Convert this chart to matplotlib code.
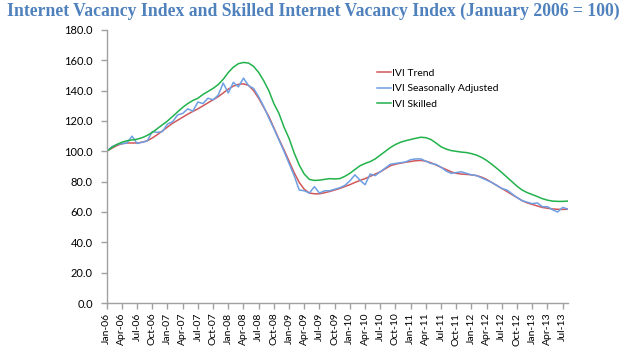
import matplotlib
matplotlib.use("Agg")
import matplotlib.pyplot as plt
import pandas as pd

months = pd.date_range("2006-01-01", "2013-08-01", freq="MS")
month_labels = [d.strftime("%b-%y") for d in months]

ivi_trend = [
    100, 102, 103.8, 105, 105.5, 105.5, 105.5, 106, 107, 108.8, 111, 113.5,
    116, 118.5, 120.5, 122.5, 124.5, 126.3, 128, 130, 132, 134, 136, 138.5,
    141, 143, 144.2, 144.5, 143.5, 140, 135, 129, 123, 115.5, 108, 101,
    93.5, 86, 79.5, 75, 72.5, 72, 72, 72.7, 73.5, 74.5, 75.5, 76.8,
    78, 79.5, 80.8, 82, 83.5, 85, 86.5, 88.5, 90.5, 91.5, 92.2, 92.8,
    93.3, 93.8, 94, 93.5, 92.5, 91, 89.5, 88, 86.5, 85.5, 85, 84.8,
    84.5, 84, 83, 81.5, 79.5, 77.5, 75.5, 73.5, 71.5, 69.5, 67.5, 66,
    65, 64, 63, 62.5, 62, 61.8, 61.7, 61.8,
]

ivi_sa = [
    100, 103, 104.5, 105, 105.5, 110, 105.2, 106, 106.8, 113, 112.5, 113,
    118, 119.5, 124, 125, 128, 126.5, 132.5, 131.5, 135, 134, 137, 145,
    138.5, 145.5, 142.5, 148.3, 143.3, 141.5, 136, 129.5, 122, 115, 107.5, 100,
    92, 84, 74.5, 74, 72.5, 76.7, 72.5, 74, 74, 75, 76, 77.5,
    80.5, 84.5, 81, 78, 85, 84, 86.5, 89, 91.5, 92, 92.5, 93,
    94.5, 95, 95, 93.5, 92, 91.4, 89.5, 87, 85.5, 86, 86.5, 85.5,
    84.5, 84, 82.5, 81, 79.5, 77.5, 75.5, 74.5, 72, 69.5, 67.5, 66.5,
    65.5, 66, 63.5, 63.5, 61.5, 60, 63, 62,
]

ivi_skilled = [
    100, 102.5, 104.5, 106, 107, 107.5, 108, 109, 110.5, 112.5, 115, 117.5,
    120, 123, 126, 129, 131.5, 133.5, 135, 137.5, 139.5, 141.5, 144, 147.5,
    152, 155.5, 157.8, 158.6, 158.2, 156, 152, 146.5, 140, 131.5, 125, 116,
    108.5, 99, 91, 85, 81.5, 80.8, 81, 81.5, 82, 81.8, 82, 83.5,
    85.5, 88, 90.5, 92, 93.2, 95, 97.5, 100, 102.5, 104.5, 106, 107,
    107.8, 108.6, 109.3, 109, 107.8, 105.5, 103, 101.5, 100.5, 100, 99.5, 99.2,
    98.5, 97.5, 96, 94, 91.5, 88.8, 86, 83, 80, 77, 74.5, 72.8,
    71.5, 70.2, 68.8, 67.8, 67.2, 67, 67, 67.2,
]

series_names = ["IVI Trend", "IVI Seasonally Adjusted", "IVI Skilled"]
series_colors = ["#D0575A", "#6E9FE2", "#22B24C"]

y_ticks = [0, 20, 40, 60, 80, 100, 120, 140, 160, 180]

W, H = 627, 355
fig = plt.figure(figsize=(W / 100, H / 100), dpi=100)
ax = fig.add_axes([106.7 / W, 1 - 303 / H, (567.7 - 106.7) / W, (303 - 30) / H])

x = list(range(len(months)))
for vals, name, col in zip([ivi_trend, ivi_sa, ivi_skilled], series_names, series_colors):
    ax.plot(x, vals, color=col, lw=1.1, label=name)

ax.set_xlim(0, len(months) - 1)
ax.set_ylim(0, 180)
ax.set_yticks(y_ticks)
ax.set_yticklabels([f"{v:.1f}" for v in y_ticks], fontsize=8, family="Lato")
tick_idx = list(range(0, len(months), 3))
ax.set_xticks(tick_idx)
ax.set_xticklabels([month_labels[i] for i in tick_idx], rotation=90,
                   fontsize=7.5, family="Lato")
for s in ["top", "right"]:
    ax.spines[s].set_visible(False)
for s in ["left", "bottom"]:
    ax.spines[s].set_color("#A0A0A0")
    ax.spines[s].set_linewidth(1.0)
ax.tick_params(axis="both", direction="out", color="#A0A0A0", length=4, width=1,
               labelcolor="black")
ax.tick_params(axis="y", pad=6)
ax.tick_params(axis="x", pad=3)

leg = ax.legend(loc="upper left", bbox_to_anchor=(377 / W, 1 - 68.5 / H),
                bbox_transform=fig.transFigure, frameon=False,
                prop={"family": "Lato", "size": 7.5}, handlelength=1.3,
                handletextpad=0.15, labelspacing=0.6, borderpad=0, borderaxespad=0)

fig.text(0.5, 1 - 11 / H,
         "Internet Vacancy Index and Skilled Internet Vacancy Index (January 2006 = 100)",
         ha="center", va="center", fontsize=12.7, fontweight="bold",
         family="Liberation Serif", color="#4F81BD")

fig.savefig("out.png", dpi=100)
